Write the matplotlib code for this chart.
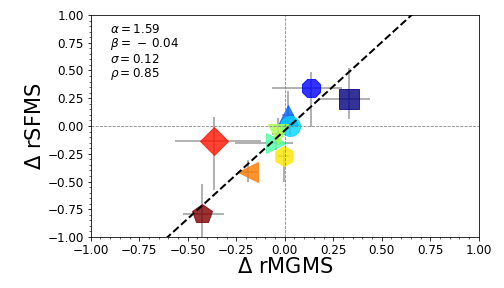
import numpy as np
import matplotlib.pyplot as plt
from matplotlib.ticker import AutoMinorLocator

# data
x = [0.33, 0.133, 0.016, 0.025, -0.047, -0.035, -0.006, -0.19, -0.365, -0.425]
y = [0.24, 0.345, 0.096, -0.003, -0.153, -0.07, -0.267, -0.41, -0.138, -0.79]
xerr_lo = [0.16, 0.20, 0.03, 0.04, 0.21, 0.03, 0.03, 0.05, 0.20, 0.10]
xerr_hi = [0.11, 0.16, 0.03, 0.04, 0.09, 0.03, 0.03, 0.05, 0.24, 0.11]
yerr_lo = [0.18, 0.35, 0.10, 0.08, 0.06, 0.10, 0.24, 0.09, 0.44, 0.30]
yerr_hi = [0.28, 0.14, 0.22, 0.08, 0.06, 0.14, 0.05, 0.10, 0.22, 0.27]
markers = ['s', '8', '^', 'o', '>', 'v', 'h', '<', 'D', 'p']

alpha_fit = 1.59
beta_fit = -0.04

fig = plt.figure(figsize=(7, 4), dpi=72)
ax = fig.add_axes([0.18, 0.177, 0.77, 0.771])

colors = plt.cm.jet(np.linspace(0, 1, len(x)))
for i in range(len(x)):
    ax.errorbar(x[i], y[i], xerr=[[xerr_lo[i]], [xerr_hi[i]]], yerr=[[yerr_lo[i]], [yerr_hi[i]]],
                fmt='none', ecolor='gray', alpha=0.6, elinewidth=2, zorder=1)
    ax.plot(x[i], y[i], marker=markers[i], color=colors[i], markersize=20, alpha=0.8,
            linestyle='none', zorder=2)

xx = np.linspace(-1, 1, 100)
ax.plot(xx, alpha_fit * xx + beta_fit, 'k--', lw=2, zorder=3)
ax.axhline(0, color='gray', ls='--', lw=0.8)
ax.axvline(0, color='gray', ls='--', lw=0.8)

ax.text(0.05, 0.965, r'$\alpha = 1.59$' + '\n' + r'$\beta = \,-\,0.04$' + '\n' + r'$\sigma = 0.12$' + '\n' + r'$\rho = 0.85$',
        transform=ax.transAxes, fontsize=12, va='top', linespacing=1.05)

ax.set_xlim(-1, 1)
ax.set_ylim(-1, 1)
ax.set_xticks(np.arange(-1, 1.01, 0.25))
ax.set_yticks(np.arange(-1, 1.01, 0.25))
ax.xaxis.set_minor_locator(AutoMinorLocator(5))
ax.yaxis.set_minor_locator(AutoMinorLocator(5))
ax.tick_params(labelsize=12)
ax.set_xlabel(r'$\Delta$ rMGMS', fontsize=21, labelpad=0)
ax.set_ylabel(r'$\Delta$ rSFMS', fontsize=21, labelpad=2)

plt.savefig("out.png")
